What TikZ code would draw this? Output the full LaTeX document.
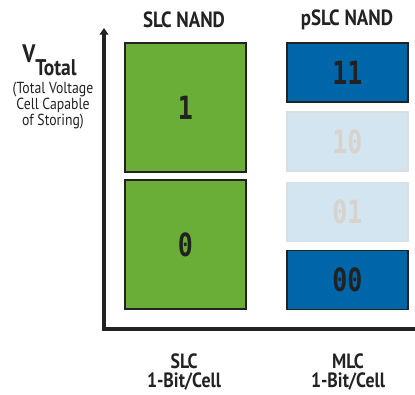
\documentclass[tikz,border=0pt]{standalone}
\usepackage{fontspec}
\setmainfont{PT Sans}[FakeStretch=0.86]
\newfontfamily\digitfont{DejaVu Sans Mono}[FakeStretch=0.78]
\usetikzlibrary{arrows.meta}
\definecolor{slcgreen}{HTML}{6BAE37}
\definecolor{darkblue}{HTML}{0066AA}
\definecolor{paleblue}{HTML}{D3E5F0}
\definecolor{paleedge}{HTML}{D9DEE2}
\definecolor{paletext}{HTML}{D8D2CC}
\definecolor{inkgray}{HTML}{222222}
\tikzset{
  cell/.style={draw=inkgray, line width=0.8pt, minimum width=90.75pt,
    text=inkgray, font=\digitfont\bfseries\fontsize{24}{24}\selectfont},
  greencell/.style={cell, fill=slcgreen, minimum height=96.75pt},
  bluecell/.style={cell, fill=darkblue, minimum height=44.25pt},
  palecell/.style={cell, draw=paleedge, fill=paleblue, text=paletext, minimum height=44.25pt},
  label/.style={text=inkgray, align=center}
}
\begin{document}
\begin{tikzpicture}[x=0.75pt, y=-0.75pt]
        \useasboundingbox (0,0) rectangle (415,394);

        % Ejes
        \coordinate (ytop) at (104,28);
        \coordinate (origin) at (104,329);
        \coordinate (xend) at (415,329);
        \draw[inkgray, line width=3pt, {Triangle[length=5pt, width=6.5pt]}-] (ytop) -- (origin) -- (xend);

        % Columna SLC (cajas verdes)
        \node[greencell] (one) at (185.5,107.5) {1};
        \node[greencell] (zero) at (185.5,244.5) {0};

        % Columna pSLC (cajas azules)
        \node[bluecell] (s11) at (347.5,72.5) {11};
        \node[palecell] (s10) at (347.5,141.5) {10};
        \node[palecell] (s01) at (347.5,212) {01};
        \node[bluecell] (s00) at (347.5,280) {00};

        % Titulos
        \node[label, font=\bfseries\fontsize{16.5}{18}\selectfont] (slctitle) at (184,20) {SLC NAND};
        \node[label, font=\bfseries\fontsize{16.5}{18}\selectfont] (pslctitle) at (347,20) {pSLC NAND};

        % Eje vertical: tension
        \node[label, anchor=base west, inner sep=0pt] (vtotal) at (22,62)
          {\bfseries\fontsize{19}{20}\selectfont V\raisebox{-10pt}{\fontsize{17}{18}\selectfont Total}};
        \node[label, font=\fontsize{12}{12}\selectfont] (vnote) at (53,106)
          {(Total Voltage\\Cell Capable\\of Storing)};

        % Etiquetas de abajo
        \node[label, font=\bfseries\fontsize{15.5}{14.5}\selectfont] (slcbits) at (184,372) {SLC\\1-Bit/Cell};
        \node[label, font=\bfseries\fontsize{15.5}{14.5}\selectfont] (mlcbits) at (348,372) {MLC\\1-Bit/Cell};
    \end{tikzpicture}
\end{document}
